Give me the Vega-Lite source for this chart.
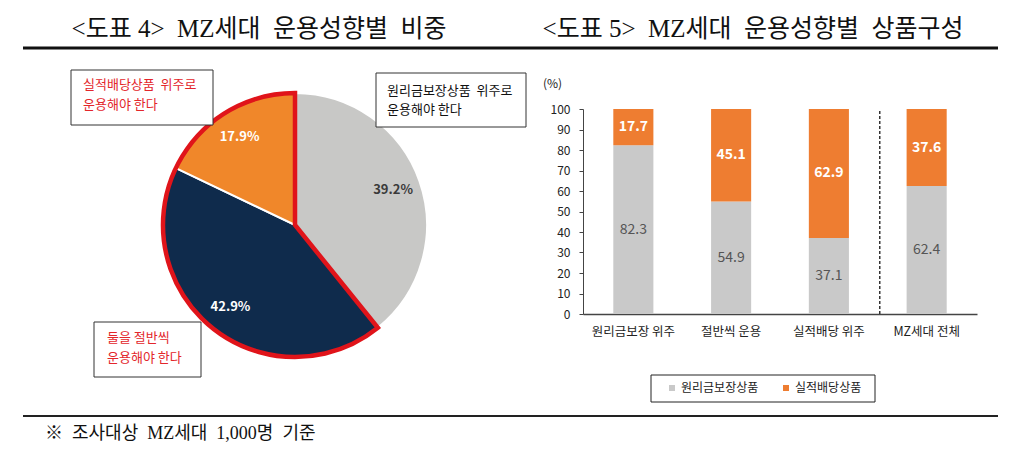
{
  "$schema": "https://vega.github.io/schema/vega-lite/v6.json",
  "width": 1024,
  "height": 463,
  "padding": 0,
  "autosize": {"type": "none"},
  "background": "white",
  "config": {"view": {"stroke": null}, "font": "Noto Sans CJK KR"},
  "layer": [
    {
      "layer": [
        {
          "data": {"values": [{"title": "<도표 4> \u00a0MZ세대 \u00a0운용성향별 \u00a0비중"}]},
          "mark": {"type": "text", "font": "Liberation Serif, Noto Sans CJK KR", "fontSize": 25, "color": "#111", "align": "center", "baseline": "middle"},
          "encoding": {
            "text": {"field": "title"},
            "x": {"datum": 259, "type": "quantitative", "scale": {"domain": [0, 1024], "range": [0, 1024], "nice": false, "zero": false}, "axis": null},
            "y": {"datum": 29, "type": "quantitative", "scale": {"domain": [0, 463], "range": [0, 463], "nice": false, "zero": false}, "axis": null}
          }
        },
        {
          "data": {"values": [{"title": "<도표 5> \u00a0MZ세대 \u00a0운용성향별 \u00a0상품구성"}]},
          "mark": {"type": "text", "font": "Liberation Serif, Noto Sans CJK KR", "fontSize": 25, "color": "#111", "align": "center", "baseline": "middle"},
          "encoding": {
            "text": {"field": "title"},
            "x": {"datum": 753, "type": "quantitative", "scale": {"domain": [0, 1024], "range": [0, 1024], "nice": false, "zero": false}, "axis": null},
            "y": {"datum": 29, "type": "quantitative", "scale": {"domain": [0, 463], "range": [0, 463], "nice": false, "zero": false}, "axis": null}
          }
        },
        {
          "data": {"values": [{"line": "top"}]},
          "mark": {"type": "rule", "color": "#111", "strokeWidth": 3},
          "encoding": {
            "x": {"datum": 23, "type": "quantitative", "scale": {"domain": [0, 1024], "range": [0, 1024], "nice": false, "zero": false}, "axis": null},
            "x2": {"datum": 998},
            "y": {"datum": 48, "type": "quantitative", "scale": {"domain": [0, 463], "range": [0, 463], "nice": false, "zero": false}, "axis": null}
          }
        },
        {
          "data": {"values": [{"line": "bottom"}]},
          "mark": {"type": "rule", "color": "#222", "strokeWidth": 2},
          "encoding": {
            "x": {"datum": 23, "type": "quantitative", "scale": {"domain": [0, 1024], "range": [0, 1024], "nice": false, "zero": false}, "axis": null},
            "x2": {"datum": 998},
            "y": {"datum": 416, "type": "quantitative", "scale": {"domain": [0, 463], "range": [0, 463], "nice": false, "zero": false}, "axis": null}
          }
        },
        {
          "data": {"values": [{"note": "※ \u00a0조사대상 \u00a0MZ세대 \u00a01,000명 \u00a0기준"}]},
          "mark": {"type": "text", "font": "Liberation Serif, Noto Sans CJK KR", "fontSize": 18, "color": "#111", "align": "left", "baseline": "middle"},
          "encoding": {
            "text": {"field": "note"},
            "x": {"datum": 45, "type": "quantitative", "scale": {"domain": [0, 1024], "range": [0, 1024], "nice": false, "zero": false}, "axis": null},
            "y": {"datum": 434, "type": "quantitative", "scale": {"domain": [0, 463], "range": [0, 463], "nice": false, "zero": false}, "axis": null}
          }
        },
        {
          "data": {"name": "pie", "values": [
            {"stance": "원리금보장상품 위주로 운용해야 한다", "share": 39.2, "order": 1},
            {"stance": "둘을 절반씩 운용해야 한다", "share": 42.9, "order": 2},
            {"stance": "실적배당상품 위주로 운용해야 한다", "share": 17.9, "order": 3}
          ]},
          "mark": {"type": "arc", "outerRadius": 132, "stroke": "white", "strokeWidth": 2},
          "encoding": {
            "theta": {"field": "share", "type": "quantitative", "stack": true, "scale": {"domain": [0, 100]}},
            "order": {"field": "order"},
            "color": {"field": "stance", "type": "nominal", "legend": null, "scale": {"domain": ["원리금보장상품 위주로 운용해야 한다", "둘을 절반씩 운용해야 한다", "실적배당상품 위주로 운용해야 한다"], "range": ["#C8C8C6", "#0F2B4C", "#F0872A"]}},
            "x": {"datum": 295, "type": "quantitative", "scale": {"domain": [0, 1024], "range": [0, 1024], "nice": false, "zero": false}, "axis": null},
            "y": {"datum": 225, "type": "quantitative", "scale": {"domain": [0, 463], "range": [0, 463], "nice": false, "zero": false}, "axis": null}
          }
        },
        {
          "data": {"values": [{"group": "실적배당·절반씩", "start": 39.2, "end": 100}]},
          "mark": {"type": "arc", "outerRadius": 132, "fill": null, "filled": false, "stroke": "#E0141A", "strokeWidth": 4.5, "strokeJoin": "miter"},
          "encoding": {
            "theta": {"field": "start", "type": "quantitative", "scale": {"domain": [0, 100]}},
            "theta2": {"field": "end"},
            "x": {"datum": 295, "type": "quantitative", "scale": {"domain": [0, 1024], "range": [0, 1024], "nice": false, "zero": false}, "axis": null},
            "y": {"datum": 225, "type": "quantitative", "scale": {"domain": [0, 463], "range": [0, 463], "nice": false, "zero": false}, "axis": null}
          }
        },
        {
          "data": {"name": "pie"},
          "mark": {"type": "text", "radius": 104, "fontSize": 13, "fontWeight": "bold", "text": {"expr": "format(datum['share'], '.1f') + '%'"}},
          "encoding": {
            "theta": {"field": "share", "type": "quantitative", "stack": true, "scale": {"domain": [0, 100]}},
            "order": {"field": "order"},
            "color": {"condition": {"test": "datum['order'] == 1", "value": "#3A3A3A"}, "value": "#FFFFFF"},
            "x": {"datum": 295, "type": "quantitative", "scale": {"domain": [0, 1024], "range": [0, 1024], "nice": false, "zero": false}, "axis": null},
            "y": {"datum": 225, "type": "quantitative", "scale": {"domain": [0, 463], "range": [0, 463], "nice": false, "zero": false}, "axis": null}
          }
        },
        {
          "data": {"values": [{"box": "실적배당"}]},
          "mark": {"type": "rect", "fill": "white", "stroke": "#333", "strokeWidth": 1},
          "encoding": {
            "x": {"datum": 71, "type": "quantitative", "scale": {"domain": [0, 1024], "range": [0, 1024], "nice": false, "zero": false}, "axis": null},
            "x2": {"datum": 213},
            "y": {"datum": 70, "type": "quantitative", "scale": {"domain": [0, 463], "range": [0, 463], "nice": false, "zero": false}, "axis": null},
            "y2": {"datum": 125}
          }
        },
        {
          "data": {"values": [{"label": "실적배당상품 \u00a0위주로\n운용해야 한다"}]},
          "mark": {"type": "text", "lineBreak": "\n", "lineHeight": 20, "fontSize": 13, "color": "#E3262B", "align": "left", "baseline": "middle"},
          "encoding": {
            "text": {"field": "label"},
            "x": {"datum": 83, "type": "quantitative", "scale": {"domain": [0, 1024], "range": [0, 1024], "nice": false, "zero": false}, "axis": null},
            "y": {"datum": 85, "type": "quantitative", "scale": {"domain": [0, 463], "range": [0, 463], "nice": false, "zero": false}, "axis": null}
          }
        },
        {
          "data": {"values": [{"box": "원리금"}]},
          "mark": {"type": "rect", "fill": "white", "stroke": "#333", "strokeWidth": 1},
          "encoding": {
            "x": {"datum": 376, "type": "quantitative", "scale": {"domain": [0, 1024], "range": [0, 1024], "nice": false, "zero": false}, "axis": null},
            "x2": {"datum": 526},
            "y": {"datum": 73, "type": "quantitative", "scale": {"domain": [0, 463], "range": [0, 463], "nice": false, "zero": false}, "axis": null},
            "y2": {"datum": 127}
          }
        },
        {
          "data": {"values": [{"label": "원리금보장상품 \u00a0위주로\n운용해야 한다"}]},
          "mark": {"type": "text", "lineBreak": "\n", "lineHeight": 19, "fontSize": 13, "color": "#111", "align": "left", "baseline": "middle"},
          "encoding": {
            "text": {"field": "label"},
            "x": {"datum": 387, "type": "quantitative", "scale": {"domain": [0, 1024], "range": [0, 1024], "nice": false, "zero": false}, "axis": null},
            "y": {"datum": 91, "type": "quantitative", "scale": {"domain": [0, 463], "range": [0, 463], "nice": false, "zero": false}, "axis": null}
          }
        },
        {
          "data": {"values": [{"box": "절반씩"}]},
          "mark": {"type": "rect", "fill": "white", "stroke": "#333", "strokeWidth": 1},
          "encoding": {
            "x": {"datum": 94, "type": "quantitative", "scale": {"domain": [0, 1024], "range": [0, 1024], "nice": false, "zero": false}, "axis": null},
            "x2": {"datum": 201},
            "y": {"datum": 322, "type": "quantitative", "scale": {"domain": [0, 463], "range": [0, 463], "nice": false, "zero": false}, "axis": null},
            "y2": {"datum": 377}
          }
        },
        {
          "data": {"values": [{"label": "둘을 절반씩\n운용해야 한다"}]},
          "mark": {"type": "text", "lineBreak": "\n", "lineHeight": 20, "fontSize": 13, "color": "#E3262B", "align": "left", "baseline": "middle"},
          "encoding": {
            "text": {"field": "label"},
            "x": {"datum": 107, "type": "quantitative", "scale": {"domain": [0, 1024], "range": [0, 1024], "nice": false, "zero": false}, "axis": null},
            "y": {"datum": 338, "type": "quantitative", "scale": {"domain": [0, 463], "range": [0, 463], "nice": false, "zero": false}, "axis": null}
          }
        },
        {
          "data": {"values": [{"box": "legend"}]},
          "mark": {"type": "rect", "fill": null, "filled": false, "stroke": "#222", "strokeWidth": 1},
          "encoding": {
            "x": {"datum": 651, "type": "quantitative", "scale": {"domain": [0, 1024], "range": [0, 1024], "nice": false, "zero": false}, "axis": null},
            "x2": {"datum": 875},
            "y": {"datum": 375, "type": "quantitative", "scale": {"domain": [0, 463], "range": [0, 463], "nice": false, "zero": false}, "axis": null},
            "y2": {"datum": 402}
          }
        }
      ]
    },
    {
      "data": {"values": [
        {"group": "원리금보장 위주", "product": "원리금보장상품", "share": 82.3},
        {"group": "원리금보장 위주", "product": "실적배당상품", "share": 17.7},
        {"group": "절반씩 운용", "product": "원리금보장상품", "share": 54.9},
        {"group": "절반씩 운용", "product": "실적배당상품", "share": 45.1},
        {"group": "실적배당 위주", "product": "원리금보장상품", "share": 37.1},
        {"group": "실적배당 위주", "product": "실적배당상품", "share": 62.9},
        {"group": "MZ세대 전체", "product": "원리금보장상품", "share": 62.4},
        {"group": "MZ세대 전체", "product": "실적배당상품", "share": 37.6}
      ]},
      "encoding": {
        "x": {"field": "group", "type": "nominal", "sort": ["원리금보장 위주", "절반씩 운용", "실적배당 위주", "MZ세대 전체"],
          "scale": {"type": "band", "domain": ["원리금보장 위주", "절반씩 운용", "실적배당 위주", "MZ세대 전체"], "range": [583, 977], "paddingInner": 0.59, "paddingOuter": 0.31},
          "axis": {"orient": "bottom", "offset": -149, "title": null, "labelAngle": 0, "ticks": false, "tickSize": 0, "labelFontSize": 12.5, "labelColor": "#222", "labelPadding": 11, "domainColor": "#444", "domainWidth": 1.5}
        }
      },
      "layer": [
        {
          "mark": {"type": "bar"},
          "encoding": {
            "y": {"field": "share", "type": "quantitative", "stack": "zero",
              "scale": {"domain": [0, 100], "range": [314, 109], "nice": false},
              "axis": {"orient": "left", "offset": -583, "values": [0, 10, 20, 30, 40, 50, 60, 70, 80, 90, 100], "grid": false, "tickSize": 4, "tickColor": "#444", "domainColor": "#444", "labelFontSize": 12, "labelColor": "#222", "labelPadding": 9, "title": "(%)", "titleAngle": 0, "titleX": -31, "titleY": 83, "titleAlign": "center", "titleBaseline": "middle", "titleFontSize": 12, "titleFontWeight": "normal", "titleColor": "#222"}
            },
            "color": {"field": "product", "type": "nominal",
              "scale": {"domain": ["원리금보장상품", "실적배당상품"], "range": ["#C9C9C9", "#EE7D31"]},
              "legend": {"orient": "none", "legendX": 666, "legendY": 382, "direction": "horizontal", "title": null, "symbolType": "square", "symbolSize": 36, "symbolStrokeWidth": 0, "labelFontSize": 12, "labelColor": "#222", "columnPadding": 21, "labelOffset": 3, "padding": 0}
            },
            "order": {"field": "product", "sort": "descending"}
          }
        },
        {
          "mark": {"type": "text", "fontSize": 14, "fontWeight": "bold", "color": "#FFFFFF", "baseline": "middle"},
          "encoding": {
            "y": {"field": "share", "type": "quantitative", "stack": "zero", "bandPosition": 0.5},
            "order": {"field": "product", "sort": "descending"},
            "detail": {"field": "product"},
            "text": {"condition": {"test": "datum['product'] == '실적배당상품'", "field": "share", "format": ".1f"}, "value": ""}
          }
        },
        {
          "mark": {"type": "text", "fontSize": 14, "color": "#555555", "baseline": "middle"},
          "encoding": {
            "y": {"field": "share", "type": "quantitative", "stack": "zero", "bandPosition": 0.5},
            "order": {"field": "product", "sort": "descending"},
            "detail": {"field": "product"},
            "text": {"condition": {"test": "datum['product'] == '원리금보장상품'", "field": "share", "format": ".1f"}, "value": ""}
          }
        },
        {
          "data": {"values": [{"divider": "MZ세대 전체", "low": 0, "high": 100}]},
          "mark": {"type": "rule", "color": "#333", "strokeWidth": 1.5, "strokeDash": [3, 2]},
          "encoding": {
            "x": {"field": "divider", "type": "nominal", "bandPosition": -0.67},
            "y": {"field": "low", "type": "quantitative"},
            "y2": {"field": "high"}
          }
        }
      ]
    }
  ],
  "resolve": {"scale": {"x": "independent", "y": "independent", "color": "independent", "theta": "independent"}}
}
